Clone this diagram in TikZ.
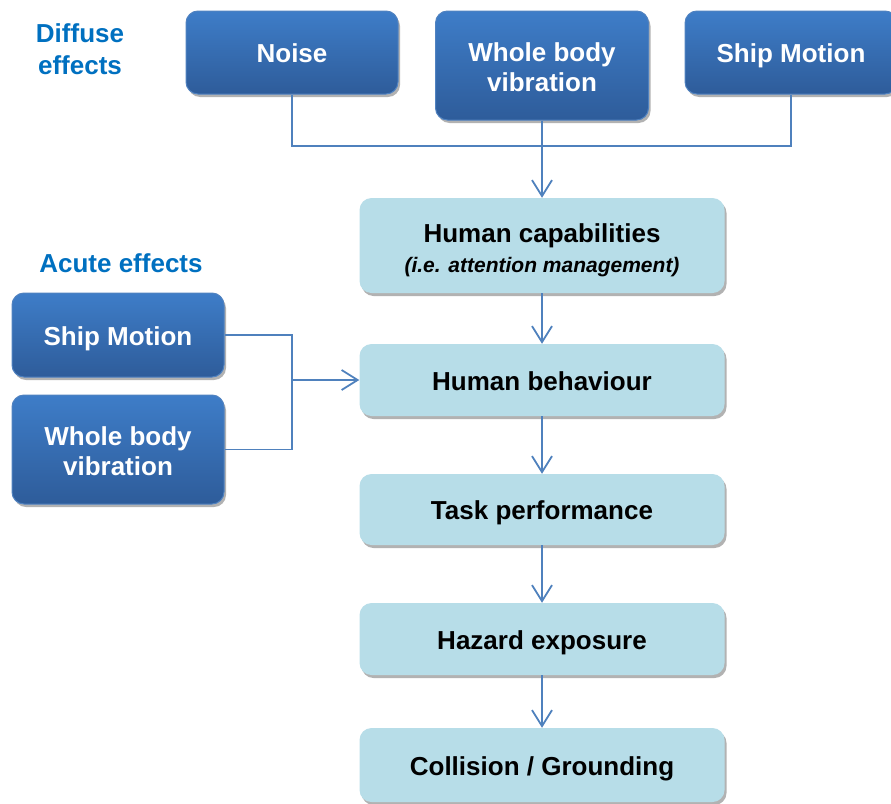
\documentclass[tikz,border=0pt]{standalone}
\usepackage{fontspec}
\setmainfont{Liberation Sans}
\usetikzlibrary{arrows.meta,shadows}
\definecolor{dtop}{RGB}{62,125,200}
\definecolor{dbot}{RGB}{46,92,154}
\definecolor{dborder}{RGB}{80,130,192}
\definecolor{lfill}{RGB}{183,221,232}
\definecolor{conncol}{RGB}{79,129,189}
\definecolor{lblcol}{RGB}{0,112,192}
\tikzset{
  boxshadow/.style={drop shadow={shadow xshift=2pt, shadow yshift=-3pt, opacity=0.3, fill=black}},
  darkbox/.style={rounded corners=12pt, top color=dtop, bottom color=dbot, draw=dborder, line width=1pt,
    minimum width=212pt, text=white, align=center, font=\fontsize{26}{30}\selectfont\bfseries, boxshadow},
  lightbox/.style={rounded corners=12pt, fill=lfill, draw=none, minimum width=365pt, text=black,
    align=center, font=\fontsize{26}{30}\selectfont\bfseries, boxshadow},
  oneline/.style={text height=22pt, text depth=1.4pt},
  conn/.style={draw=conncol, line width=1.8pt},
  arr/.style={-{Straight Barb[length=16pt,width=20pt]}},
  lbl/.style={text=lblcol, align=center, font=\fontsize{26}{32}\selectfont\bfseries}
}
\begin{document}
\begin{tikzpicture}[x=1pt,y=-1pt]
\useasboundingbox (0,0) rectangle (891,803);
\clip (0,0) rectangle (891,803);
% labels
\node[lbl] (diff) at (80,49) {Diffuse\\effects};
\node[lbl] (acute) at (121,263) {Acute effects};
% top dark boxes
\node[darkbox, oneline, minimum height=83pt] (noise) at (292,52.5) {Noise};
\node[darkbox, minimum height=109pt, minimum width=213pt] (wbv1) at (542,65.5) {\rule{0pt}{22pt}Whole body\\vibration};
\node[darkbox, oneline, minimum height=83pt] (ship1) at (791,52.5) {Ship Motion};
% acute dark boxes
\node[darkbox, oneline, minimum height=84pt] (ship2) at (118,335) {Ship Motion};
\node[darkbox, minimum height=109pt] (wbv2) at (118,449.5) {\rule{0pt}{22pt}Whole body\\vibration};
% chain
\node[lightbox, minimum height=95pt] (hc) at (542,245.5) {\rule{0pt}{28pt}Human capabilities\\{\fontsize{21}{25}\selectfont\bfseries\itshape (i.e. attention management)}};
\node[lightbox, oneline, minimum height=72pt] (hb) at (542,380) {Human behaviour};
\node[lightbox, oneline, minimum height=71pt] (tp) at (542,509.5) {Task performance};
\node[lightbox, oneline, minimum height=72pt] (he) at (542,639) {Hazard exposure};
\node[lightbox, oneline, minimum height=74pt] (cg) at (542,765) {Collision / Grounding};
% connectors
\coordinate (j) at (542,146);
\coordinate (k) at (292,380);
\draw[conn] (noise.south) |- (j) -| (ship1.south);
\draw[conn,arr] (wbv1.south) -- (hc.north);
\draw[conn] (ship2.east) -| (k) |- (wbv2.east);
\draw[conn,arr] (k) -- (hb.west);
\draw[conn,arr] (hc.south) -- (hb.north);
\draw[conn,arr] (hb.south) -- (tp.north);
\draw[conn,arr] (tp.south) -- (he.north);
\draw[conn,arr] (he.south) -- (cg.north);
\end{tikzpicture}
\end{document}
